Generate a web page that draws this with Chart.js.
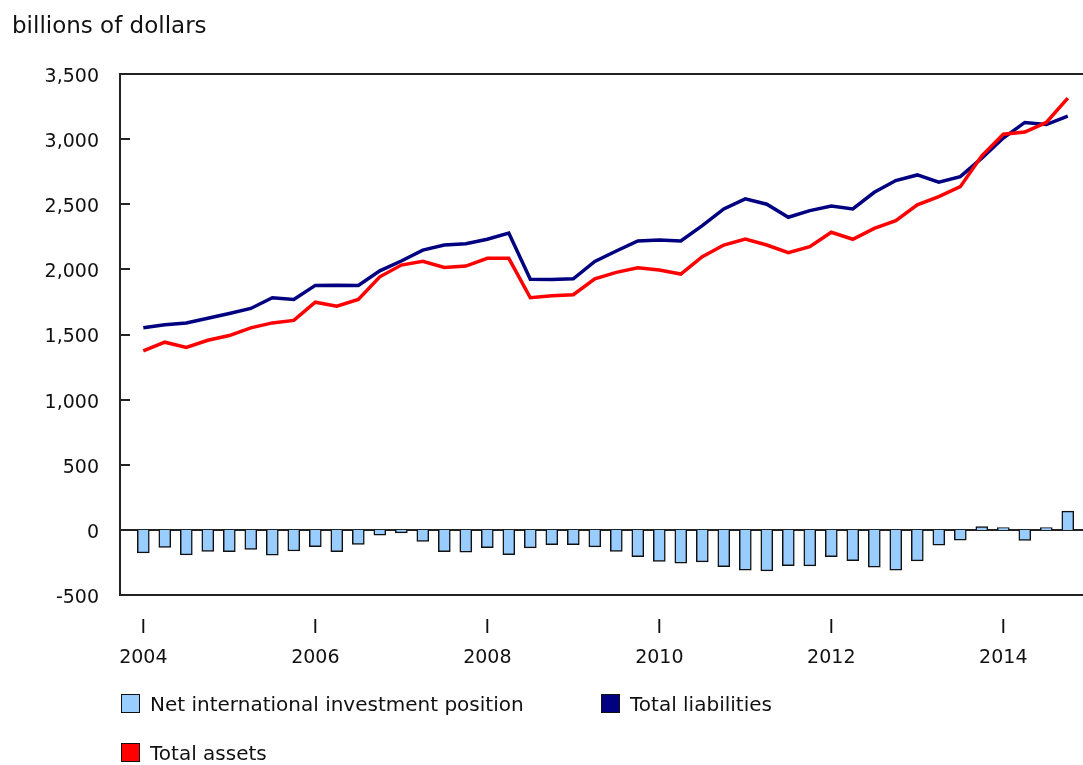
<!DOCTYPE html>
<html>
<head>
<meta charset="utf-8">
<script src="https://cdn.jsdelivr.net/npm/chart.js@4/dist/chart.umd.min.js"></script>
<style>
  body { margin: 0; background: #fff; font-family: "DejaVu Sans", Verdana, sans-serif; color: #111; }
  #wrap { position: relative; width: 1083px; height: 765px; overflow: hidden; }
  #chart { position: absolute; left: 0; top: 0; }
  .title { position: absolute; left: 12px; top: 11px; font-size: 23px; line-height: 28px; white-space: nowrap; }
  .legend-item { position: absolute; font-size: 20px; line-height: 20px; white-space: nowrap; }
  .legend-box { position: absolute; left: 0; top: 0; width: 17px; height: 17px; border: 1.5px solid #111; }
  .legend-item span.txt { position: absolute; left: 29px; top: 0; }
</style>
</head>
<body>
<div id="wrap">
  <canvas id="chart" width="1083" height="765"></canvas>
  <div class="title">billions of dollars</div>
  <div id="legend"></div>
</div>
<script>
// ── Quarterly data, 2004 Q1 to 2014 Q4 ──
const quarters = [
  '2004 I','2004 II','2004 III','2004 IV','2005 I','2005 II','2005 III','2005 IV',
  '2006 I','2006 II','2006 III','2006 IV','2007 I','2007 II','2007 III','2007 IV',
  '2008 I','2008 II','2008 III','2008 IV','2009 I','2009 II','2009 III','2009 IV',
  '2010 I','2010 II','2010 III','2010 IV','2011 I','2011 II','2011 III','2011 IV',
  '2012 I','2012 II','2012 III','2012 IV','2013 I','2013 II','2013 III','2013 IV',
  '2014 I','2014 II','2014 III','2014 IV'
];

const netPosition = [
  -177,-134,-192,-165,-167,-151,-195,-162,-128,-167,
  -111,-41,-23,-88,-167,-172,-136,-190,-138,-113,
  -113,-131,-165,-206,-242,-255,-246,-282,-310,-315,
  -274,-277,-205,-236,-287,-310,-238,-118,-79,25,
  18,-80,18,144
];

const totalLiabilities = [
  1551,1574,1589,1625,1661,1700,1782,1769,1877,1879,
  1877,1989,2064,2148,2187,2197,2231,2279,1925,1923,
  1928,2061,2141,2218,2225,2218,2336,2464,2541,2500,
  2400,2451,2487,2464,2592,2682,2725,2669,2712,2854,
  3008,3128,3112,3177
];

const totalAssets = [
  1374,1441,1400,1456,1492,1551,1589,1608,1748,1718,
  1769,1943,2033,2062,2015,2025,2085,2085,1782,1797,
  1805,1927,1977,2012,1995,1964,2097,2187,2233,2187,
  2128,2174,2285,2231,2315,2374,2495,2558,2635,2872,
  3038,3054,3128,3315
];

// x-axis labels: first quarter of every other year
const tickQuarters = ['2004 I','2006 I','2008 I','2010 I','2012 I','2014 I'];
const yTicks = [-500, 0, 500, 1000, 1500, 2000, 2500, 3000, 3500];

const COLORS = {
  net: '#99ccff',
  liabilities: '#000080',
  assets: '#ff0000',
  ink: '#111111'
};

const FONT = { family: '"DejaVu Sans", Verdana, sans-serif', size: 19 };

const points = arr => arr.map((v, i) => ({ x: i, y: v }));

// ── Frame: top line, zero line, inward y ticks ──
const framePlugin = {
  id: 'frame',
  beforeDatasetsDraw(chart) {
    const { ctx, chartArea: a, scales: { y } } = chart;
    ctx.save();
    ctx.strokeStyle = '#222';
    ctx.lineWidth = 2;
    const y0 = Math.round(y.getPixelForValue(0));
    ctx.beginPath();
    ctx.moveTo(a.left, y0);
    ctx.lineTo(a.right, y0);
    ctx.stroke();
    ctx.restore();
  },
  afterDraw(chart) {
    const { ctx, chartArea: a, scales: { y } } = chart;
    ctx.save();
    ctx.strokeStyle = '#222';
    ctx.lineWidth = 2;
    ctx.beginPath();
    ctx.moveTo(a.left, a.top);
    ctx.lineTo(a.right, a.top);
    yTicks.forEach(v => {
      const py = Math.round(y.getPixelForValue(v));
      ctx.moveTo(a.left, py);
      ctx.lineTo(a.left + 10, py);
    });
    ctx.stroke();
    ctx.restore();
  }
};

new Chart(document.getElementById('chart'), {
  type: 'bar',
  data: {
    datasets: [
      {
        type: 'line',
        label: 'Total assets',
        data: points(totalAssets),
        borderColor: COLORS.assets,
        borderWidth: 3.5,
        pointRadius: 0,
        tension: 0,
        order: 1
      },
      {
        type: 'line',
        label: 'Total liabilities',
        data: points(totalLiabilities),
        borderColor: COLORS.liabilities,
        borderWidth: 3.5,
        pointRadius: 0,
        tension: 0,
        order: 2
      },
      {
        type: 'bar',
        label: 'Net international investment position',
        data: points(netPosition),
        backgroundColor: COLORS.net,
        borderColor: COLORS.ink,
        borderWidth: 1.5,
        barThickness: 12,
        order: 3
      }
    ]
  },
  options: {
    responsive: false,
    animation: false,
    layout: { padding: { left: 0, right: 0, top: 74, bottom: 0 } },
    plugins: { legend: { display: false }, tooltip: { enabled: false } },
    scales: {
      x: {
        type: 'linear',
        offset: false,
        min: -1.084,
        max: 43.707,
        grid: { display: false, drawTicks: false },
        border: { display: true, color: '#222', width: 2 },
        afterBuildTicks: s => { s.ticks = tickQuarters.map(q => ({ value: quarters.indexOf(q) })); },
        afterFit: s => { s.height = 170; },
        ticks: {
          autoSkip: false,
          maxRotation: 0,
          padding: 18,
          color: COLORS.ink,
          font: { ...FONT, lineHeight: 1.58 },
          callback: v => {
            const [yr, q] = quarters[v].split(' ');
            return [q, yr];
          }
        }
      },
      y: {
        min: -500,
        max: 3500,
        grid: { display: false, drawTicks: false },
        border: { display: true, color: '#222', width: 2 },
        afterBuildTicks: s => { s.ticks = yTicks.map(v => ({ value: v })); },
        afterFit: s => { s.width = 120; },
        ticks: {
          padding: 21,
          labelOffset: 3,
          color: COLORS.ink,
          font: FONT,
          callback: v => v.toLocaleString('en-US')
        }
      }
    }
  },
  plugins: [framePlugin]
});

// ── HTML legend ──
const legendItems = [
  { label: 'Net international investment position', color: COLORS.net, left: 121, top: 694 },
  { label: 'Total liabilities', color: COLORS.liabilities, left: 601, top: 694 },
  { label: 'Total assets', color: COLORS.assets, left: 121, top: 743 }
];
document.getElementById('legend').innerHTML = legendItems.map(it =>
  `<div class="legend-item" style="left:${it.left}px;top:${it.top}px">
     <span class="legend-box" style="background:${it.color}"></span>
     <span class="txt">${it.label}</span>
   </div>`
).join('');
</script>
</body>
</html>
